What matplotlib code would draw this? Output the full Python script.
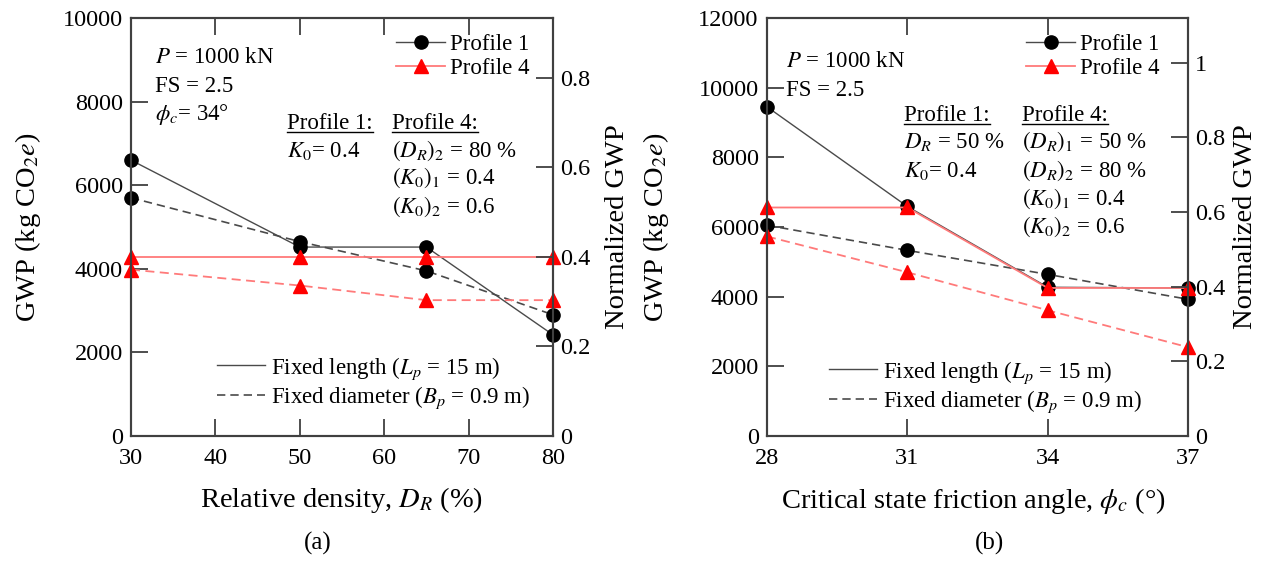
import matplotlib
matplotlib.use('Agg')
import matplotlib.pyplot as plt
from matplotlib.lines import Line2D
from matplotlib.ticker import FormatStrFormatter, FuncFormatter

plt.rcParams['font.family'] = ['Liberation Serif', 'DejaVu Serif']
plt.rcParams['mathtext.fontset'] = 'stix'

# ---------------- data ----------------
DR = [30, 50, 65, 80]
a_p1_length = [6600, 4520, 4520, 2420]
a_p1_diameter = [5700, 4650, 3950, 2900]
a_p4_length = [4280, 4280, 4280, 4280]
a_p4_diameter = [3980, 3600, 3250, 3250]

PHI = [28, 31, 34, 37]
b_p1_length = [9450, 6590, 4270, 4250]
b_p1_diameter = [6050, 5330, 4640, 3925]
b_p4_length = [6560, 6560, 4250, 4250]
b_p4_diameter = [5730, 4700, 3610, 2550]

GWP_REF = 10720.0   # GWP used for the normalised axis

# ---------------- figure ----------------
W, H = 1265, 561
fig = plt.figure(figsize=(W / 100, H / 100), dpi=100)


def fp(x, y):
    # pixel position (from top-left) -> figure fraction
    return x / W, 1 - y / H


def box(x0, x1, y0, y1):
    return [x0 / W, 1 - y1 / H, (x1 - x0) / W, (y1 - y0) / H]


BLACK_LINE = '#4a4a4a'
RED_LINE = '#ff7a7a'
DASH = (0, (5, 3))
TICK_FS = 17.5
TXT_FS = 16.5
LAB_FS = 20.5


def make_panel(rect, x, p1l, p1d, p4l, p4d, xlim, xticks, ymax, nticks):
    ax = fig.add_axes(rect)
    ax.plot(x, p1l, color=BLACK_LINE, lw=1.0, marker='o', ms=9.5, mfc='k', mec='k', clip_on=False, zorder=3)
    ax.plot(x, p1d, color=BLACK_LINE, lw=1.2, ls=DASH, marker='o', ms=9.5, mfc='k', mec='k', clip_on=False, zorder=3)
    ax.plot(x, p4l, color=RED_LINE, lw=1.3, marker='^', ms=10, mfc='red', mec='red', clip_on=False, zorder=4)
    ax.plot(x, p4d, color=RED_LINE, lw=1.3, ls=DASH, marker='^', ms=10, mfc='red', mec='red', clip_on=False, zorder=4)
    ax.set_xlim(*xlim)
    ax.set_ylim(0, ymax)
    ax.set_xticks(xticks)
    ax.set_yticks(range(0, ymax + 1, 2000))
    ax.tick_params(axis='both', direction='in', length=12, width=1.3, color='#404040', labelsize=TICK_FS)
    ax.tick_params(axis='x', top=True, pad=9)
    ax.tick_params(axis='y', pad=6)
    for s in ax.spines.values():
        s.set_linewidth(1.5)
        s.set_color('#404040')
    ax2 = ax.twinx()
    ax2.set_ylim(0, ymax / GWP_REF)
    ax2.set_yticks(nticks)
    ax2.yaxis.set_major_formatter(FuncFormatter(lambda v, p: '%g' % round(v, 2)))
    ax2.tick_params(axis='y', direction='in', length=12, width=1.3, color='#404040', labelsize=TICK_FS, pad=5)
    for s in ax2.spines.values():
        s.set_linewidth(1.5)
        s.set_color('#404040')
    return ax, ax2


ax_a, ax_a2 = make_panel(box(131, 553, 18, 436), DR, a_p1_length, a_p1_diameter, a_p4_length, a_p4_diameter,
                         (30, 80), [30, 40, 50, 60, 70, 80], 10000, [0, 0.2, 0.4, 0.6, 0.8])
ax_b, ax_b2 = make_panel(box(767, 1188, 18, 436), PHI, b_p1_length, b_p1_diameter, b_p4_length, b_p4_diameter,
                         (28, 37), [28, 31, 34, 37], 12000, [0, 0.2, 0.4, 0.6, 0.8, 1.0])

# ---------------- axis labels ----------------
fig.text(*fp(28, 227), 'GWP (kg CO$_2$$e$)', rotation=90, ha='center', va='center', fontsize=LAB_FS)
fig.text(*fp(617, 227), 'Normalized GWP', rotation=90, ha='center', va='center', fontsize=LAB_FS)
fig.text(*fp(656, 227), 'GWP (kg CO$_2$$e$)', rotation=90, ha='center', va='center', fontsize=LAB_FS)
fig.text(*fp(1246, 227), 'Normalized GWP', rotation=90, ha='center', va='center', fontsize=LAB_FS)
fig.text(*fp(342, 507), 'Relative density, $D_R$ (%)', ha='center', va='baseline', fontsize=LAB_FS)
fig.text(*fp(973, 508), 'Critical state friction angle, $\\phi_c$ (°)', ha='center', va='baseline', fontsize=LAB_FS)
fig.text(*fp(318, 543), '(a)', ha='center', va='center', fontsize=18)
fig.text(*fp(990, 543), '(b)', ha='center', va='center', fontsize=18)

# ---------------- annotations ----------------
notes = [
    (155, 63, '$P$ = 1000 kN'), (155, 92, 'FS = 2.5'), (155, 120, '$\\phi_c$= 34°'),
    (287, 157, '$K_0$= 0.4'),
    (392, 157, '$(D_R)_2$ = 80 %'), (392, 184, '$(K_0)_1$ = 0.4'), (392, 213, '$(K_0)_2$ = 0.6'),
    (786, 67, '$P$ = 1000 kN'), (786, 96, 'FS = 2.5'),
    (904, 148, '$D_R$ = 50 %'), (904, 177, '$K_0$= 0.4'),
    (1022, 148, '$(D_R)_1$ = 50 %'), (1022, 177, '$(D_R)_2$ = 80 %'),
    (1022, 205, '$(K_0)_1$ = 0.4'), (1022, 233, '$(K_0)_2$ = 0.6'),
]
for x, y, s in notes:
    fig.text(*fp(x, y), s, ha='left', va='baseline', fontsize=TXT_FS)

headers = []
for x, y, s in [(287, 129, 'Profile 1:'), (392, 129, 'Profile 4:'),
                (904, 121, 'Profile 1:'), (1022, 121, 'Profile 4:')]:
    headers.append(fig.text(*fp(x, y), s, ha='left', va='baseline', fontsize=TXT_FS))

# ---------------- legends ----------------
h_p1 = Line2D([], [], color=BLACK_LINE, lw=1.0, marker='o', ms=9.5, mfc='k', mec='k')
h_p4 = Line2D([], [], color=RED_LINE, lw=1.3, marker='^', ms=10, mfc='red', mec='red')
h_len = Line2D([], [], color=BLACK_LINE, lw=1.0)
h_dia = Line2D([], [], color=BLACK_LINE, lw=1.2, ls=DASH)

for ax2, (px1, py1), (px2, py2) in [(ax_a2, (396, 34), (217, 355)), (ax_b2, (1026, 34), (829, 359))]:
    leg1 = ax2.legend([h_p1, h_p4], ['Profile 1', 'Profile 4'], loc='upper left',
                      bbox_to_anchor=fp(px1, py1), bbox_transform=fig.transFigure, frameon=False,
                      borderpad=0, borderaxespad=0, handlelength=2.15, handletextpad=0.2,
                      labelspacing=0.12, fontsize=TXT_FS)
    ax2.add_artist(leg1)
    ax2.legend([h_len, h_dia], ['Fixed length ($L_p$ = 15 m)', 'Fixed diameter ($B_p$ = 0.9 m)'],
               loc='upper left', bbox_to_anchor=fp(px2, py2), bbox_transform=fig.transFigure,
               frameon=False, borderpad=0, borderaxespad=0, handlelength=2.1, handletextpad=0.25,
                labelspacing=0.12, fontsize=TXT_FS)

# underline the profile headers
fig.canvas.draw()
r = fig.canvas.get_renderer()
for t in headers:
    bb = t.get_window_extent(r)
    y_u = t.get_position()[1] * H - 3
    fig.add_artist(Line2D([bb.x0 / W, bb.x1 / W], [y_u / H, y_u / H], color='k', lw=1.0,
                          transform=fig.transFigure))

fig.savefig('out.png', dpi=100)
